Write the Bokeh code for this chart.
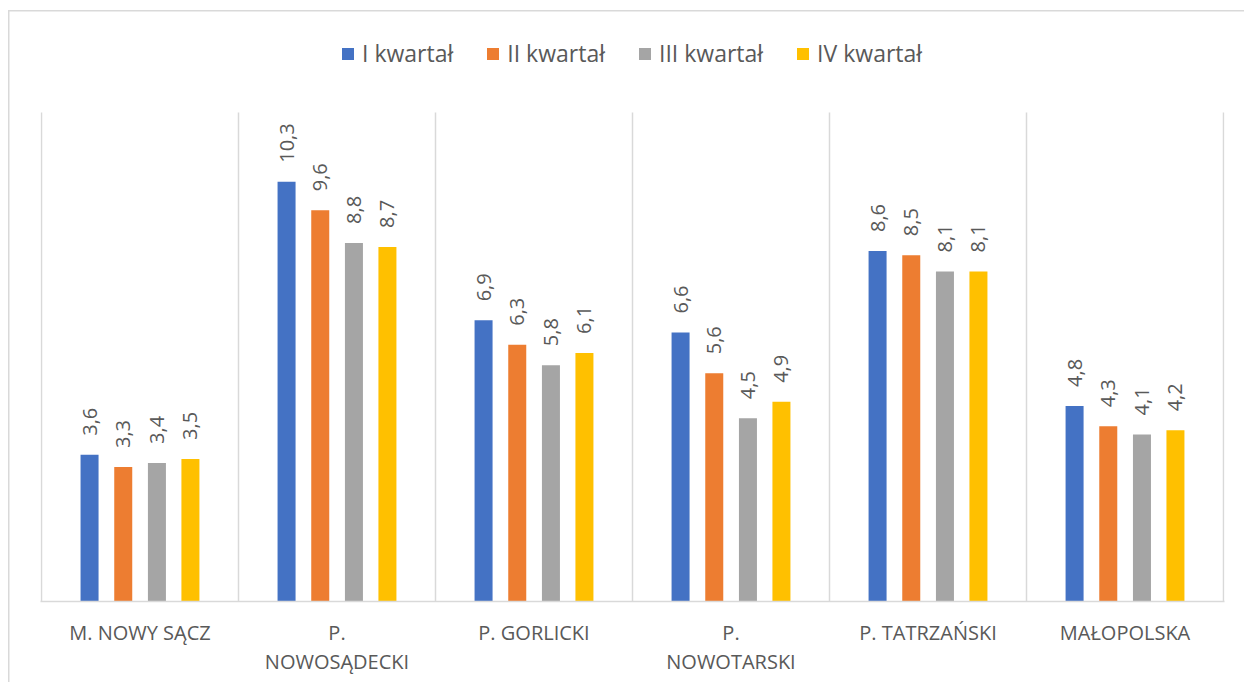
import math
from bokeh.plotting import figure
from bokeh.models import (ColumnDataSource, FixedTicker, LinearAxis, Grid, Range1d,
                          Legend, LegendItem)
from bokeh.core.properties import value
from bokeh.embed import file_html
from bokeh.resources import INLINE

# ---- data ----
categories = ["M. NOWY SĄCZ", "P. NOWOSĄDECKI", "P. GORLICKI",
              "P. NOWOTARSKI", "P. TATRZAŃSKI", "MAŁOPOLSKA"]
category_labels = ["M. NOWY SĄCZ", "P.\nNOWOSĄDECKI", "P. GORLICKI",
                   "P.\nNOWOTARSKI", "P. TATRZAŃSKI", "MAŁOPOLSKA"]
series_names = ["I kwartał", "II kwartał", "III kwartał", "IV kwartał"]
q1 = [3.6, 10.3, 6.9, 6.6, 8.6, 4.8]
q2 = [3.3, 9.6, 6.3, 5.6, 8.5, 4.3]
q3 = [3.4, 8.8, 5.8, 4.5, 8.1, 4.1]
q4 = [3.5, 8.7, 6.1, 4.9, 8.1, 4.2]
series_values = [q1, q2, q3, q4]
colors = ["#4472C4", "#ED7D31", "#A5A5A5", "#FFC000"]
offsets = [-0.256, -0.085, 0.086, 0.256]
value_max = 12  # top of the value axis (grid lines end here)

FONT = "Open Sans"
TXT = "#595959"
GRIDC = "#d9d9d9"

W, H = 1236, 672
# frame spans canvas y 20..591; value 12 sits 489 px above the baseline
y_top = (591 - 20) / 40.75
p = figure(width=W, height=H, output_backend="svg", toolbar_location=None,
           x_axis_type=None, y_axis_type=None,
           x_range=Range1d(-0.005, len(categories) + 0.005), y_range=Range1d(0, y_top),
           min_border_left=32, min_border_right=20, min_border_top=20,
           min_border_bottom=81)
p.outline_line_color = None
p.background_fill_color = "white"
p.border_fill_color = None
p.styles = {
    "margin-left": "8px",
    "margin-top": "10px",
    "background-color": "white",
    "box-shadow": "inset 1.5px 1.5px 0 0 #d9d9d9",
}

centers = [i + 0.5 for i in range(len(categories))]

# category boundary grid
grid = Grid(dimension=0, ticker=FixedTicker(ticks=list(range(len(categories) + 1))),
            grid_line_color=GRIDC, grid_line_width=1.5, cross_bounds=(0, value_max))
p.add_layout(grid)

# category axis
xaxis = LinearAxis(ticker=FixedTicker(ticks=centers),
                   major_label_overrides={c: lab for c, lab in zip(centers, category_labels)})
xaxis.axis_line_color = GRIDC
xaxis.axis_line_width = 1.5
xaxis.major_tick_line_color = None
xaxis.minor_tick_line_color = None
xaxis.major_label_text_font = FONT
xaxis.major_label_text_font_size = "20px"
xaxis.major_label_text_color = TXT
xaxis.major_label_text_line_height = 1.1
xaxis.major_label_standoff = 11
p.add_layout(xaxis, "below")

items = []
for name, vals, col, off in zip(series_names, series_values, colors, offsets):
    src = ColumnDataSource(dict(
        x=[c + off for c in centers],
        top=vals,
        lab=[f"{v:.1f}".replace(".", ",") for v in vals],
    ))
    r = p.vbar(x="x", top="top", bottom=0, width=0.0914, source=src,
               fill_color=col, line_color=None)
    p.text(x="x", y="top", text="lab", source=src, angle=math.pi / 2,
           text_align="left", text_baseline="middle", y_offset=-19,
           text_font=value(FONT), text_font_size="20px", text_color=TXT)
    items.append(LegendItem(label=name, renderers=[r]))

legend = Legend(items=items, orientation="horizontal", location=(300, 532),
                glyph_width=15, glyph_height=15, label_standoff=7, spacing=32,
                padding=0, margin=0, border_line_color=None,
                background_fill_alpha=0,
                label_text_font=FONT, label_text_font_size="23px",
                label_text_color=TXT)
p.add_layout(legend, "center")

open("out.html", "w").write(file_html(p, INLINE))
